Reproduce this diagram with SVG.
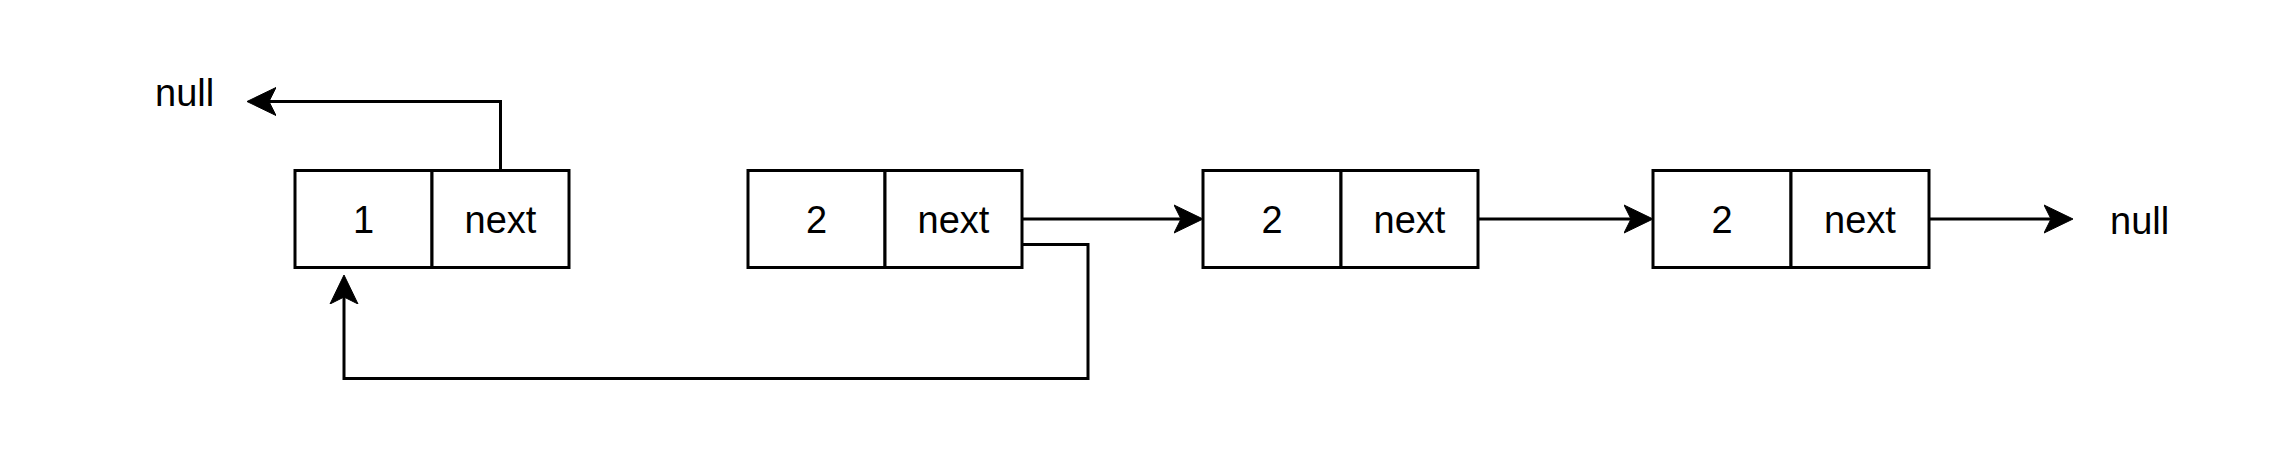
<svg xmlns="http://www.w3.org/2000/svg" width="2292" height="450" viewBox="0 0 2292 450">
  <style>
    .cell { fill: #ffffff; stroke: #000000; stroke-width: 3; }
    .lbl { font-family: "Liberation Sans", Arial, Helvetica, sans-serif; font-size: 38px; fill: #000000; text-anchor: middle; }
    .plain { font-family: "Liberation Sans", Arial, Helvetica, sans-serif; font-size: 38px; fill: #000000; }
    .edge { fill: none; stroke: #000000; stroke-width: 3; stroke-linejoin: miter; }
  </style>
  <defs>
    <marker id="arrow" markerUnits="userSpaceOnUse" viewBox="0 -15 30 30" markerWidth="30" markerHeight="30" refX="7" refY="0" orient="auto">
      <path d="M0,-14 L29,0 L0,14 L7,0 Z" fill="#000000" stroke="#000000" stroke-width="1" stroke-linejoin="miter"/>
    </marker>
  </defs>
  <rect width="2292" height="450" fill="#ffffff"/>

  <g id="connectors">
    <!-- node1 next -> null (top) -->
    <path class="edge" d="M500.5,170.5 L500.5,101.5 L269,101.5" marker-end="url(#arrow)"/>
    <!-- node2 next -> node3 -->
    <path class="edge" d="M1022,219 L1181,219" marker-end="url(#arrow)"/>
    <!-- node2 next -> node1 (loop back) -->
    <path class="edge" d="M1022,244.5 L1088,244.5 L1088,378.5 L344,378.5 L344,297" marker-end="url(#arrow)"/>
    <!-- node3 next -> node4 -->
    <path class="edge" d="M1478,219 L1631,219" marker-end="url(#arrow)"/>
    <!-- node4 next -> null -->
    <path class="edge" d="M1929,219 L2051,219" marker-end="url(#arrow)"/>
  </g>

  <g id="null-left">
    <text class="plain" x="155" y="106">null</text>
  </g>

  <g id="node1">
    <rect class="cell" x="295" y="170.5" width="137" height="97"/>
    <rect class="cell" x="432" y="170.5" width="137" height="97"/>
    <text class="lbl" x="363.5" y="232.5">1</text>
    <text class="lbl" x="500.5" y="232.5">next</text>
  </g>

  <g id="node2">
    <rect class="cell" x="748" y="170.5" width="137" height="97"/>
    <rect class="cell" x="885" y="170.5" width="137" height="97"/>
    <text class="lbl" x="816.5" y="232.5">2</text>
    <text class="lbl" x="953.5" y="232.5">next</text>
  </g>

  <g id="node3">
    <rect class="cell" x="1203" y="170.5" width="138" height="97"/>
    <rect class="cell" x="1341" y="170.5" width="137" height="97"/>
    <text class="lbl" x="1272" y="232.5">2</text>
    <text class="lbl" x="1409.5" y="232.5">next</text>
  </g>

  <g id="node4">
    <rect class="cell" x="1653" y="170.5" width="138" height="97"/>
    <rect class="cell" x="1791" y="170.5" width="138" height="97"/>
    <text class="lbl" x="1722" y="232.5">2</text>
    <text class="lbl" x="1860" y="232.5">next</text>
  </g>

  <g id="null-right">
    <text class="plain" x="2110" y="234">null</text>
  </g>
</svg>
